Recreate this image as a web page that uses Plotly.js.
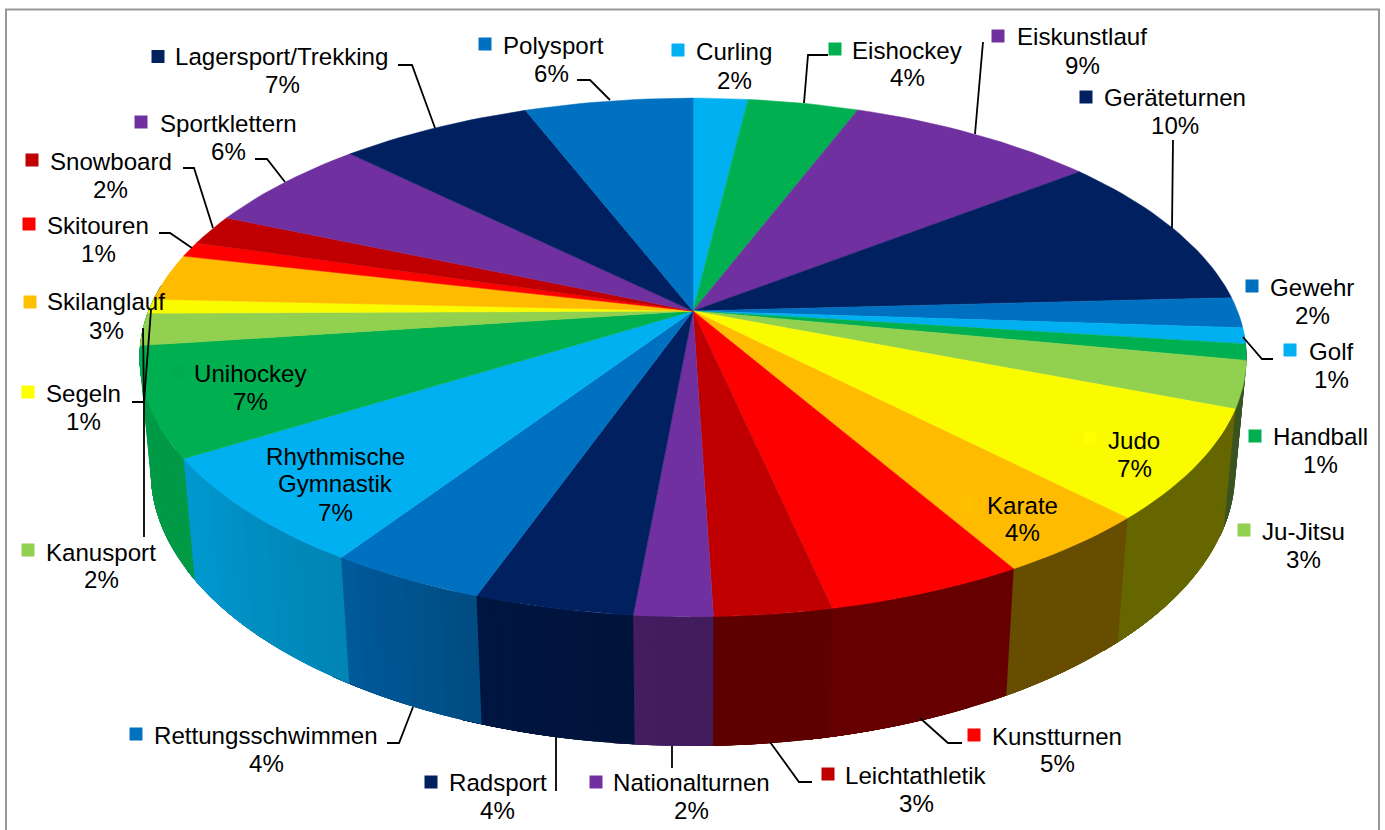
<!DOCTYPE html>
<html>
<head>
<meta charset="utf-8">
<script src="https://cdn.plot.ly/plotly-3.0.1.min.js"></script>
<style>html,body{margin:0;padding:0;background:#fff;overflow:hidden}#chart{width:1385px;height:830px}</style>
</head>
<body>
<div id="chart"></div>
<script>
// ---- data ----
const categories = ["Curling","Eishockey","Eiskunstlauf","Geräteturnen","Gewehr","Golf","Handball","Ju-Jitsu","Judo","Karate","Kunstturnen","Leichtathletik","Nationalturnen","Radsport","Rettungsschwimmen","Rhythmische|Gymnastik","Unihockey","Kanusport","Segeln","Skilanglauf","Skitouren","Snowboard","Sportklettern","Lagersport/Trekking","Polysport"];
const values = [1.9,3.85,8.7,9.7,1.9,1,1,2.9,6.82,3.95,4.9,2.9,1.93,3.92,3.9,6.8,6.8,2,0.9,2.9,0.95,1.9,5.95,6.7,5.85];
const percentLabels = ["2%","4%","9%","10%","2%","1%","1%","3%","7%","4%","5%","3%","2%","4%","4%","7%","7%","2%","1%","3%","1%","2%","6%","7%","6%"];
// ---- styles ----
const sliceColors = ["#00B0F0","#00B050","#7030A0","#002060","#0070C0","#00B0F0","#00B050","#92D050","#FBFB00","#FFBB00","#FF0000","#C00000","#7030A0","#002060","#0070C0","#00B0F0","#00B050","#92D050","#FBFB00","#FFBB00","#FF0000","#C00000","#7030A0","#002060","#0070C0"];
const wallColors = ["#00B0F0","#00B050","#7030A0","#002060","#0070C0","#00B0F0","#00B050","#92D050","#FFFF00","#FFC000","#FF0000","#C00000","#7030A0","#002060","#0070C0","#00B0F0","#00B050","#92D050","#FFFF00","#FFC000","#FF0000","#C00000","#7030A0","#002060","#0070C0"];
const keyColors = ["#00B0F0","#00B050","#7030A0","#002060","#0070C0","#00B0F0","#00B050","#92D050","#FFFF00","#FFC000","#FF0000","#C00000","#7030A0","#002060","#0070C0","#00B0F0","#00AD4E","#92D050","#FFFF00","#FFC000","#FF0000","#C00000","#7030A0","#002060","#0070C0"];
// ---- label placement (pixel axes) ----
const nameX = [734,907,1082,1175,1312,1331,1320,1303,1134,1022,1057,916,691,498,266,335,250,101,83,106,98,111,228,281.5,553];
const nameY = [51,50,36,97,287,351,436,531,440,505,736,775,782,782,735,456,373,552,393,301,225,161,123,56,45];
const pctX  = [734,907,1082,1175,1312,1331,1320,1303,1134,1022,1057,916,691,497,266,335,250,101,83,106,98,110,228,282,551];
const pctY  = [80,77,65,125,315,379,464,559,468,532,763,803,810,810,763,512,401,579,421,330,253,189,151,84,73];
const keyX  = [678,835,998,1086,1252,1290,1255,1244,1090,968,974,828,596,431,136,248,177,28,28,30,29,32,141,158,485];
const keyY  = [50,49,36,97,286,350,436,530,438,504,735,774,782,782,734,456,372,550,392,302,224,160,122,56.5,44];
const leaderLines = [
  [[398,412,435],[65,65,128]],
  [[577,590,610],[80,80,100]],
  [[828,808,804],[55,55,103]],
  [[983,975],[42,134]],
  [[1173,1172],[140,228]],
  [[1243,1262,1273],[337,359,359]],
  [[920,948,962],[718,743,743]],
  [[770,799,812],[742,782,782]],
  [[672,672],[746,768]],
  [[556,556],[737,791]],
  [[413,399,387],[707,743,743]],
  [[183,194,213],[168,168,228]],
  [[255,267,285],[159,159,182]],
  [[159,170,192],[233,233,248]],
  [[132,144,143],[402,402,328]],
  [[144,144,151],[537,402,310]]
];
// ---- projection of the cylinder onto the picture ----
const CX=693, CY=311, A=544.5, B=251, K=0.179, M=0.02, D=114.8;
const WALL_FROM=95, WALL_TO=276, LAST_WALL_SLICE=16;
function project(theta, z){
  const u=Math.sin(theta), v=Math.cos(theta), w=1+K*v+M*z;
  return [CX+A*u/w, CY+(-B*v+D*z)/w];
}
const shadeStops=[[90,.4],[167.5,.4],[168,.49],[178,.49],[178.5,.58],[185,.6],[199.5,.67],[200,.68],[213,.8],[213.5,.75],[238,.87],[262,.875],[300,.875]];
function shade(deg){
  for(let i=1;i<shadeStops.length;i++){
    if(deg<=shadeStops[i][0]){
      const a=shadeStops[i-1],b=shadeStops[i],t=(deg-a[0])/(b[0]-a[0]);
      return a[1]+t*(b[1]-a[1]);
    }
  }
  return .875;
}
function darken(hex,f){
  const n=parseInt(hex.slice(1),16);
  return `rgb(${Math.round((n>>16&255)*f)},${Math.round((n>>8&255)*f)},${Math.round((n&255)*f)})`;
}
const total=values.reduce((a,b)=>a+b,0);
const toRad=Math.PI/180;
const traces=[];
let start=0;
const spans=values.map(v=>{const s=[start,start+v/total*360];start=s[1];return s;});
// Side wall: strips painted in angular order. Each strip runs on past its own end and
// the next strip paints over the excess, so no seam is left between them.
function wallStrip(d0,d1,color){
  const n=Math.max(2,Math.ceil((d1-d0)/1.5)), xs=[], ys=[], bx=[], by=[];
  for(let j=0;j<=n;j++){
    const d=(d0+(d1-d0)*j/n)*toRad, t=project(d,0), b=project(d,1);
    xs.push(t[0]); ys.push(t[1]); bx.unshift(b[0]); by.unshift(b[1]);
  }
  const X=xs.concat(bx), Y=ys.concat(by);
  X.push(X[0]); Y.push(Y[0]);
  traces.push({type:"scatter",mode:"none",x:X,y:Y,fill:"toself",fillcolor:color,hoverinfo:"skip"});
}
spans.forEach((s,i)=>{
  if(i>LAST_WALL_SLICE) return;
  const a0=Math.max(s[0],WALL_FROM), a1=i===LAST_WALL_SLICE?WALL_TO:s[1];
  if(a1<=a0) return;
  const n=Math.max(1,Math.ceil((a1-a0)/2));
  for(let j=0;j<n;j++){
    const d0=a0+(a1-a0)*j/n, d1=a0+(a1-a0)*(j+1)/n;
    wallStrip(d0,Math.min(WALL_TO,a1+2),darken(wallColors[i],shade((d0+d1)/2)));
  }
});
// top face
spans.forEach((s,i)=>{
  const xs=[CX], ys=[CY], n=Math.max(2,Math.ceil((s[1]-s[0])/1.5));
  for(let j=0;j<=n;j++){
    const p=project((s[0]+(s[1]-s[0])*j/n)*toRad,0);
    xs.push(p[0]); ys.push(p[1]);
  }
  xs.push(CX); ys.push(CY);
  traces.push({type:"scatter",mode:"lines",name:categories[i].replace("|"," "),x:xs,y:ys,fill:"toself",fillcolor:sliceColors[i],
    line:{color:sliceColors[i],width:0.5},hoverinfo:"skip"});
});
// leader lines
leaderLines.forEach(l=>traces.push({type:"scatter",mode:"lines",x:l[0],y:l[1],line:{color:"#000",width:1.8},hoverinfo:"skip"}));
// legend keys
traces.push({type:"scatter",mode:"markers",x:keyX,y:keyY,marker:{symbol:"square",size:13,color:keyColors,line:{width:0}},hoverinfo:"skip"});
// text
const font={family:"Liberation Sans, Arial, sans-serif",size:24.1,color:"#000"};
const annotations=[];
function addText(t,x,y){annotations.push({text:t,x:x,y:y,xref:"x",yref:"y",showarrow:false,xanchor:"center",yanchor:"middle",font:font});}
categories.forEach((c,i)=>{
  c.split("|").forEach((line,k)=>addText(line,nameX[i],nameY[i]+k*27.5));
  addText(percentLabels[i],pctX[i],pctY[i]);
});
const layout={width:1385,height:830,margin:{l:0,r:0,t:0,b:0},paper_bgcolor:"#fff",plot_bgcolor:"#fff",showlegend:false,hovermode:false,
  xaxis:{range:[0,1385],visible:false,fixedrange:true},
  yaxis:{range:[830,0],visible:false,fixedrange:true},
  shapes:[{type:"rect",xref:"x",yref:"y",x0:6,y0:9.5,x1:1379,y1:900,line:{color:"#989898",width:2},fillcolor:"rgba(0,0,0,0)",layer:"below"}],
  annotations:annotations};
Plotly.newPlot("chart",traces,layout,{displayModeBar:false,staticPlot:true});
</script>
</body>
</html>
